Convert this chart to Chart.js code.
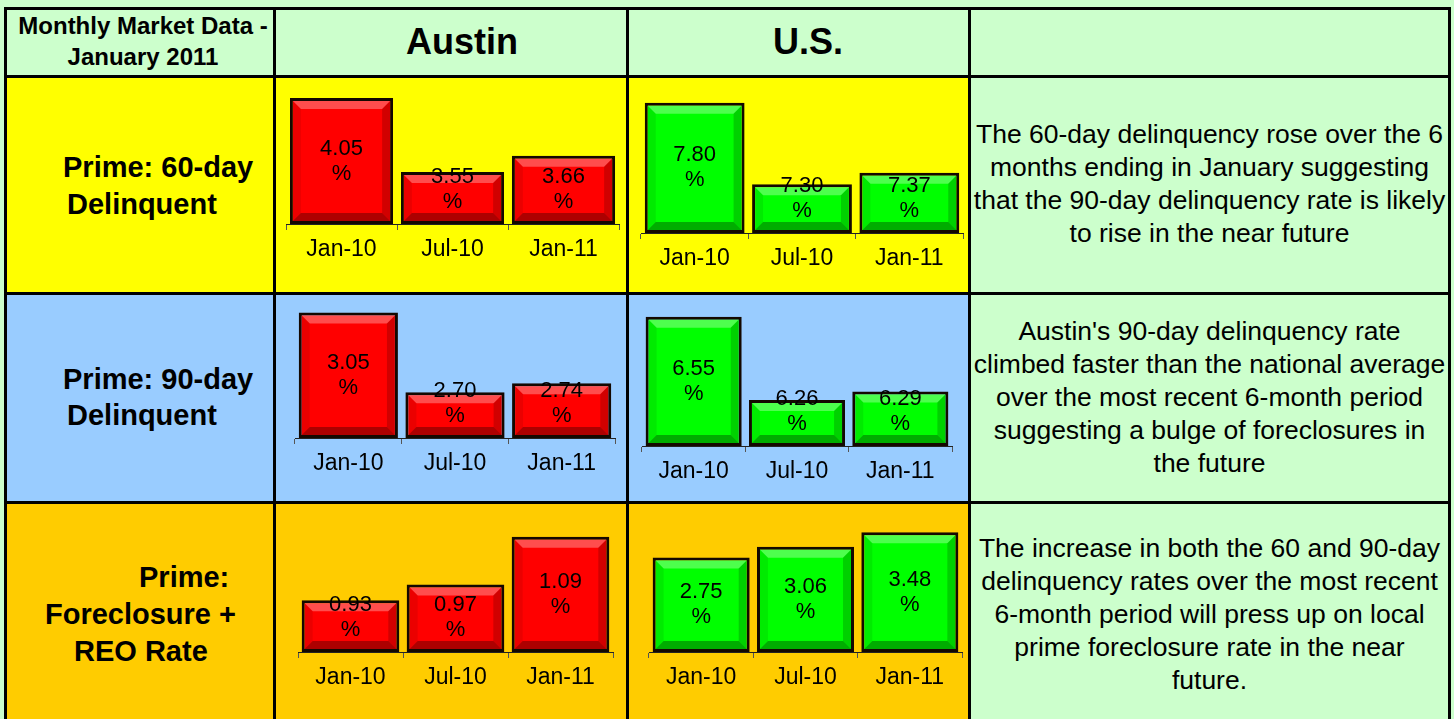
<!DOCTYPE html>
<html>
<head>
<meta charset="utf-8">
<script src="https://cdn.jsdelivr.net/npm/chart.js@4.4.1/dist/chart.umd.min.js"></script>
<style>
    body { margin: 0; background: #ccffcc; }
    #page {
        position: relative;
        width: 1454px;
        height: 719px;
        overflow: hidden;
        background: #ccffcc;
        font-family: 'Liberation Sans', Arial, sans-serif;
        color: #000;
    }
    .cell, .line, .txt, canvas { position: absolute; }
    .line { background: #000; }
    .yellow { background: #ffff00; }
    .blue { background: #99ccff; }
    .gold { background: #ffcc00; }
    .txt { white-space: nowrap; }
    .head { font-weight: bold; text-align: center; }
    .rowlabel { font-weight: bold; font-size: 29px; line-height: 36px; }
    .note { left: 971px; width: 477px; text-align: center; font-size: 26.5px; line-height: 33px; }
</style>
</head>
<body>
<div id="page">
    <!-- cell fills -->
    <div class="cell yellow" style="left:7px;top:78px;width:619px;height:214px"></div>
    <div class="cell yellow" style="left:626px;top:78px;width:342px;height:214px"></div>
    <div class="cell blue" style="left:7px;top:295px;width:961px;height:206px"></div>
    <div class="cell gold" style="left:7px;top:504px;width:961px;height:215px"></div>

    <!-- grid lines -->
    <div class="line" style="left:4px;top:7px;width:1447px;height:3px"></div>
    <div class="line" style="left:4px;top:75px;width:1447px;height:3px"></div>
    <div class="line" style="left:4px;top:292px;width:1447px;height:3px"></div>
    <div class="line" style="left:4px;top:501px;width:1447px;height:3px"></div>
    <div class="line" style="left:4px;top:7px;width:3px;height:712px"></div>
    <div class="line" style="left:273px;top:7px;width:3px;height:712px"></div>
    <div class="line" style="left:626px;top:7px;width:3px;height:712px"></div>
    <div class="line" style="left:968px;top:7px;width:3px;height:712px"></div>
    <div class="line" style="left:1448px;top:7px;width:3px;height:712px"></div>

    <!-- header row -->
    <div class="txt head" style="left:7px;width:272px;top:10px;font-size:24px;line-height:31px">Monthly Market Data -<br>January 2011</div>
    <div class="txt head" style="left:362px;width:200px;top:20px;font-size:36px;line-height:44px">Austin</div>
    <div class="txt head" style="left:708px;width:200px;top:20px;font-size:36px;line-height:44px">U.S.</div>

    <!-- row labels -->
    <div class="txt rowlabel" style="left:63px;top:149px">Prime: 60-day</div>
    <div class="txt rowlabel" style="left:67px;top:186px">Delinquent</div>
    <div class="txt rowlabel" style="left:63px;top:361px">Prime: 90-day</div>
    <div class="txt rowlabel" style="left:67px;top:397px">Delinquent</div>
    <div class="txt rowlabel" style="left:139px;top:559px">Prime:</div>
    <div class="txt rowlabel" style="left:45px;top:596px">Foreclosure +</div>
    <div class="txt rowlabel" style="left:74px;top:633px">REO Rate</div>

    <!-- comments -->
    <div class="txt note" style="top:118px">The 60-day delinquency rose over the 6<br>months ending in January suggesting<br>that the 90-day delinquency rate is likely<br>to rise in the near future</div>
    <div class="txt note" style="top:315px">Austin's 90-day delinquency rate<br>climbed faster than the national average<br>over the most recent 6-month period<br>suggesting a bulge of foreclosures in<br>the future</div>
    <div class="txt note" style="top:532px">The increase in both the 60 and 90-day<br>delinquency rates over the most recent<br>6-month period will press up on local<br>prime foreclosure rate in the near<br>future.</div>

    <!-- charts -->
    <canvas id="austin60" width="350" height="214" style="left:276px;top:78px"></canvas>
    <canvas id="us60" width="339" height="214" style="left:629px;top:78px"></canvas>
    <canvas id="austin90" width="350" height="206" style="left:276px;top:295px"></canvas>
    <canvas id="us90" width="339" height="206" style="left:629px;top:295px"></canvas>
    <canvas id="austinFc" width="350" height="215" style="left:276px;top:504px"></canvas>
    <canvas id="usFc" width="339" height="215" style="left:629px;top:504px"></canvas>
</div>

<script>
// Data
const periods = ['Jan-10', 'Jul-10', 'Jan-11'];
const austin60 = [4.05, 3.55, 3.66];
const us60 = [7.80, 7.30, 7.37];
const austin90 = [3.05, 2.70, 2.74];
const us90 = [6.55, 6.26, 6.29];
const austinForeclosure = [0.93, 0.97, 1.09];
const usForeclosure = [2.75, 3.06, 3.48];

const FONT = "'Liberation Sans', Arial, sans-serif";
const RED = '#ff0000';
const GREEN = '#00ff00';

function poly(ctx, pts, fill) {
    ctx.beginPath();
    ctx.moveTo(pts[0][0], pts[0][1]);
    for (let i = 1; i < pts.length; i++) ctx.lineTo(pts[i][0], pts[i][1]);
    ctx.closePath();
    ctx.fillStyle = fill;
    ctx.fill();
}

// Bevelled bars + "x.xx / %" labels
const bevelLabels = {
    id: 'bevelLabels',
    afterDatasetsDraw(chart) {
        const ctx = chart.ctx;
        const values = chart.data.datasets[0].data;
        const bw = 3, d = 8;
        ctx.save();
        chart.getDatasetMeta(0).data.forEach((bar, i) => {
            const p = bar.getProps(['x', 'y', 'base', 'width'], true);
            const l = p.x - p.width / 2 + bw, r = p.x + p.width / 2 - bw;
            const t = p.y + bw, b = p.base - bw;
            poly(ctx, [[l, t], [r, t], [r - d, t + d], [l + d, t + d]], 'rgba(255,255,255,0.3)');
            poly(ctx, [[l, t], [l + d, t + d], [l + d, b - d], [l, b]], 'rgba(0,0,0,0.08)');
            poly(ctx, [[r, t], [r - d, t + d], [r - d, b - d], [r, b]], 'rgba(0,0,0,0.18)');
            poly(ctx, [[l, b], [r, b], [r - d, b - d], [l + d, b - d]], 'rgba(0,0,0,0.32)');

            const cy = Math.min((p.y + p.base) / 2, p.base - 35);
            ctx.fillStyle = '#000';
            ctx.font = '22px ' + FONT;
            ctx.textAlign = 'center';
            ctx.textBaseline = 'middle';
            ctx.fillText(values[i].toFixed(2), p.x, cy - 12.5);
            ctx.fillText('%', p.x, cy + 12.5);
        });
        ctx.restore();
    }
};

function createBarChart(id, values, color, yMin, yMax, padding) {
    const ctx = document.getElementById(id).getContext('2d');
    new Chart(ctx, {
        type: 'bar',
        data: {
            labels: periods,
            datasets: [{
                data: values,
                base: yMin,
                backgroundColor: color,
                borderColor: '#140800',
                borderWidth: 3,
                borderSkipped: false,
                categoryPercentage: 1,
                barPercentage: 0.93,
                clip: false
            }]
        },
        options: {
            responsive: false,
            animation: false,
            layout: { padding: padding },
            plugins: {
                legend: { display: false },
                tooltip: { enabled: false }
            },
            scales: {
                x: {
                    grid: {
                        display: true,
                        drawOnChartArea: false,
                        tickLength: 6,
                        color: '#555',
                        offset: true
                    },
                    border: { display: true, color: '#222', width: 1 },
                    ticks: {
                        color: '#000',
                        padding: 6,
                        maxRotation: 0,
                        autoSkip: false,
                        font: { size: 23, family: FONT }
                    }
                },
                y: {
                    display: false,
                    min: yMin,
                    max: yMax
                }
            }
        },
        plugins: [bevelLabels]
    });
}

window.onload = () => {
    createBarChart('austin60', austin60, RED, 3.2, 4.1, { left: 10, right: 7, top: 12.6, bottom: 22.4 });
    createBarChart('us60', us60, GREEN, 7.0, 7.9, { left: 12, right: 5, top: 8.6, bottom: 13.4 });
    createBarChart('austin90', austin90, RED, 2.5, 3.1, { left: 19, right: 11, top: 6, bottom: 17.4 });
    createBarChart('us90', us90, GREEN, 6.1, 6.6, { left: 13, right: 16, top: 7.5, bottom: 9.4 });
    createBarChart('austinFc', austinForeclosure, RED, 0.8, 1.15, { left: 22, right: 13, top: 9, bottom: 21.4 });
    createBarChart('usFc', usForeclosure, GREEN, 0, 3.6, { left: 20, right: 6, top: 24.2, bottom: 21.4 });
};
</script>
</body>
</html>
